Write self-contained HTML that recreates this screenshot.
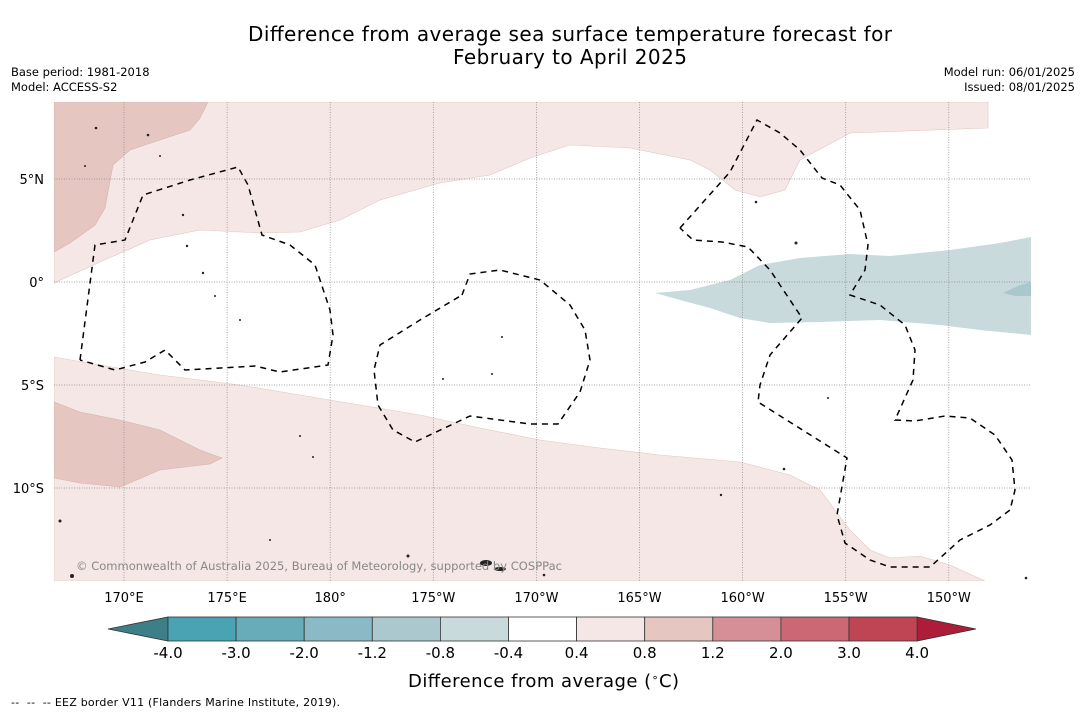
<!DOCTYPE html>
<html><head><meta charset="utf-8"><style>
html,body{margin:0;padding:0;background:#fff;}
svg{display:block;font-family:"DejaVu Sans","Liberation Sans",sans-serif;}
</style></head><body>
<svg id="chart" width="1085" height="713" viewBox="0 0 1085 713" xmlns="http://www.w3.org/2000/svg">
<text x="570" y="41" font-size="20" text-anchor="middle" textLength="644">Difference from average sea surface temperature forecast for</text>
<text x="570" y="64" font-size="20" text-anchor="middle" textLength="234">February to April 2025</text>
<text x="11" y="76" font-size="11.5">Base period: 1981-2018</text>
<text x="11" y="91" font-size="11.5">Model: ACCESS-S2</text>
<text x="1075" y="76" font-size="11.5" text-anchor="end">Model run: 06/01/2025</text>
<text x="1075" y="91" font-size="11.5" text-anchor="end">Issued: 08/01/2025</text>

<g>
<defs><clipPath id="mc"><rect x="54" y="102" width="977" height="479"/></clipPath></defs>
<g clip-path="url(#mc)">
<rect x="54" y="102" width="977" height="479" fill="#fff"/>
<polygon fill="#f4e7e5" stroke="#e0c8c4" stroke-width="0.6" points="54,102 988,102 988,128 850,133 800,160 785,190 760,197 735,190 710,170 690,160 630,148 570,145 530,158 490,175 440,183 380,200 340,220 300,232 260,233 200,230 150,240 100,262 54,283"/>
<polygon fill="#e6c6c1" stroke="#d8b2ac" stroke-width="0.6" points="54,102 208,102 200,118 190,130 160,140 130,150 113,165 105,208 95,225 70,243 54,252"/>
<polygon fill="#f4e7e5" stroke="#e0c8c4" stroke-width="0.6" points="54,357 100,365 160,375 240,385 300,395 360,405 420,415 480,428 540,440 600,448 660,455 740,462 790,475 820,490 835,510 850,530 870,550 890,558 920,556 950,565 985,581 54,581"/>
<polygon fill="#e6c6c1" stroke="#d8b2ac" stroke-width="0.6" points="54,402 80,412 120,420 160,430 200,450 222,458 210,464 160,470 120,487 80,483 54,478"/>
<polygon fill="#c8dadc" points="655,293 690,290 730,280 760,265 800,258 850,254 890,256 950,250 1000,243 1031,237 1031,335 980,330 940,325 880,320 820,322 770,323 740,318 710,308 680,300"/>
<polygon fill="#a9c8cd" points="1003,293 1020,285 1031,282 1031,296 1015,296"/>
</g>
<g id="grid" stroke="#888" stroke-width="0.7" stroke-dasharray="1,1.5"></g>
<g fill="none" stroke="#000" stroke-width="1.5" stroke-dasharray="6,5">
<polyline points="80,360 95,245 125,240 143,195 190,180 238,167 248,185 262,235 290,245 315,265 330,310 333,335 328,365 280,372 255,366 185,370 165,350 145,362 115,370 80,360"/>
<polyline points="462,295 470,274 500,270 540,280 570,305 585,330 590,360 580,392 558,424 530,424 470,416 415,442 393,430 378,405 374,370 380,345 420,320 462,295"/>
<polyline points="680,228 730,172 757,120 780,133 800,150 822,178 840,185 860,210 868,245 865,270 850,295 880,305 905,325 915,350 913,380 895,420 915,421 945,416 970,418 995,435 1012,460 1015,490 1010,510 990,525 960,540 930,567 890,567 870,560 845,543 837,515 847,458 758,402 760,385 770,355 802,318 790,300 770,270 748,247 722,242 693,240 680,228"/>
</g>
<g fill="#222">
<circle cx="96" cy="128" r="1.3"/><circle cx="148" cy="135" r="1.3"/><circle cx="160" cy="156" r="1"/><circle cx="85" cy="166" r="1"/><circle cx="183" cy="215" r="1.2"/><circle cx="187" cy="246" r="1.2"/><circle cx="203" cy="273" r="1.2"/><circle cx="215" cy="296" r="1"/><circle cx="240" cy="320" r="1"/><circle cx="502" cy="337" r="1"/><circle cx="443" cy="379" r="1"/><circle cx="492" cy="374" r="1"/><circle cx="756" cy="202" r="1.3"/><circle cx="796" cy="243" r="1.5"/><circle cx="828" cy="398" r="1"/><circle cx="784" cy="469" r="1.3"/><circle cx="721" cy="495" r="1.2"/><circle cx="60" cy="521" r="1.5"/><circle cx="72" cy="576" r="2"/><circle cx="408" cy="556" r="1.5"/><ellipse cx="486" cy="563" rx="6" ry="3"/><ellipse cx="500" cy="569" rx="6" ry="2"/><circle cx="544" cy="575" r="1.3"/><circle cx="1026" cy="578" r="1.3"/><circle cx="270" cy="540" r="1"/><circle cx="313" cy="457" r="1"/><circle cx="300" cy="436" r="1"/>
</g>
<text x="76" y="570" font-size="11.5" fill="#888" textLength="486">© Commonwealth of Australia 2025, Bureau of Meteorology, supported by COSPPac</text>
</g>
<g id="xlabels" font-size="13" text-anchor="middle"></g>
<g id="ylabels" font-size="13" text-anchor="end"></g>
<g id="cbar"></g>
<text x="408" y="687" font-size="18" textLength="271">Difference from average (<tspan baseline-shift="super" font-size="11">∘</tspan>C)</text>
<text x="11" y="706" font-size="11" textLength="329" xml:space="preserve" style="white-space:pre">--  --  -- EEZ border V11 (Flanders Marine Institute, 2019).</text>
</svg>
<script>
const lonTicks=[170,175,180,185,190,195,200,205,210];
const lonLabels=["170°E","175°E","180°","175°W","170°W","165°W","160°W","155°W","150°W"];
const latTicks=[5,0,-5,-10];
const latLabels=["5°N","0°","5°S","10°S"];
const cbarBounds=["-4.0","-3.0","-2.0","-1.2","-0.8","-0.4","0.4","0.8","1.2","2.0","3.0","4.0"];
const cbarColors=["#4aa3b2","#68abb9","#8abac5","#aac8cd","#c8dadc","#ffffff","#f4e7e5","#e6c6c1","#d68f96","#cb6873","#bf4555"];
const cbarExt=["#3d7f88","#ad1d3a"];
const NS="http://www.w3.org/2000/svg";
function xLon(l){return 124+(l-170)*20.62;}
function yLat(l){return 282-l*20.6;}
function mk(t,a,p){const e=document.createElementNS(NS,t);for(const k in a)e.setAttribute(k,a[k]);p.appendChild(e);return e;}
const grid=document.getElementById('grid'),xl=document.getElementById('xlabels'),yl=document.getElementById('ylabels'),cb=document.getElementById('cbar');
lonTicks.forEach((l,i)=>{const x=xLon(l);
 const g=mk('line',{x1:x,x2:x,y1:102,y2:581},grid);
 
 
 const t=mk('text',{x:x,y:602},xl);t.textContent=lonLabels[i];
 
 });
latTicks.forEach((l,i)=>{const y=yLat(l);
 const g=mk('line',{x1:54,x2:1031,y1:y,y2:y},grid);
 
 
 const t=mk('text',{x:44,y:y+5},yl);t.textContent=latLabels[i];
 
 });
const x0=168,w=68.1,y0=617,h=24;
function cx(i){return x0+i*w;}
const l=mk('polygon',{points:`108,${y0+h/2} ${x0},${y0} ${x0},${y0+h}`,fill:cbarExt[0],stroke:'#333','stroke-width':0.8},cb);


const xe=cx(cbarColors.length);
const r=mk('polygon',{points:`${xe},${y0} 976,${y0+h/2} ${xe},${y0+h}`,fill:cbarExt[1],stroke:'#333','stroke-width':0.8},cb);


cbarColors.forEach((c,i)=>{const b=mk('rect',{x:cx(i),y:y0,width:w,height:h,fill:c,stroke:'#333','stroke-width':0.8},cb);
 
 });
cbarBounds.forEach((s,i)=>{const t=mk('text',{x:cx(i),y:658,'font-size':15,'text-anchor':'middle'},cb);t.textContent=s;
 
 });
</script>
</body></html>
